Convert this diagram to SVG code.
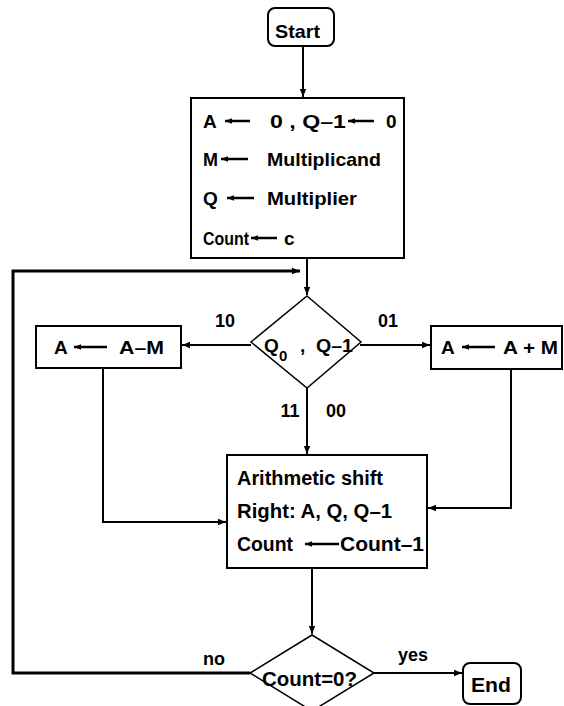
<svg xmlns="http://www.w3.org/2000/svg" width="564" height="706" viewBox="0 0 564 706">
<defs>
<marker id="ah" viewBox="0 0 10 10" refX="10" refY="5" markerWidth="10" markerHeight="8" markerUnits="userSpaceOnUse" orient="auto">
<path d="M0,1 L10,5 L0,9 Z" fill="#000"/>
</marker>
<marker id="ahs" viewBox="0 0 10 10" refX="10" refY="5" markerWidth="10" markerHeight="7" markerUnits="userSpaceOnUse" orient="auto">
<path d="M0,1 L10,5 L0,9 Z" fill="#000"/>
</marker>
</defs>
<style>
text{font-family:"Liberation Sans",Arial,sans-serif;font-weight:bold;fill:#000}
.t19{font-size:19px}
.t20{font-size:20px}
.lb{font-size:18px}
.box{fill:#fff;stroke:#000;stroke-width:2}
.dia{fill:#fff;stroke:#000;stroke-width:1.5}
.c{fill:none;stroke:#000;stroke-width:2}
.thick{fill:none;stroke:#000;stroke-width:3}
.ta{fill:none;stroke:#000;stroke-width:2.5;marker-end:url(#ahs)}
</style>
<rect width="564" height="706" fill="#fff"/>

<g id="connectors">
<path class="c" d="M303,46 V97" marker-end="url(#ah)"/>
<path class="c" d="M307,258 V295" marker-end="url(#ah)"/>
<path class="thick" d="M250,673 H13 V271 H300" marker-end="url(#ah)"/>
<path class="c" d="M251,345 H182" marker-end="url(#ah)"/>
<path class="c" d="M360,345 H430" marker-end="url(#ah)"/>
<path class="c" d="M307,388 V454" marker-end="url(#ah)"/>
<path class="c" d="M103,368 V522 H226" marker-end="url(#ah)"/>
<path class="c" d="M511,369 V508 H428" marker-end="url(#ah)"/>
<path class="c" d="M312,568 V634" marker-end="url(#ah)"/>
<path class="c" d="M374,673 H462" marker-end="url(#ah)"/>
</g>

<g id="start">
<rect class="box" x="268" y="8" width="66" height="38" rx="7"/>
<text x="275" y="38" font-size="19" textLength="45" lengthAdjust="spacingAndGlyphs">Start</text>
</g>

<g id="init">
<rect class="box" x="191" y="98" width="213" height="160"/>
<text class="t19" x="203" y="128">A</text>
<path class="ta" d="M250,121 H225"/>
<text class="t19" x="270" y="128" textLength="76" lengthAdjust="spacingAndGlyphs">0 , Q–1</text>
<path class="ta" d="M374,121 H348"/>
<text class="t19" x="386" y="128">0</text>
<text class="t19" x="203" y="166" textLength="15" lengthAdjust="spacingAndGlyphs">M</text>
<path class="ta" d="M248,159 H221"/>
<text class="t19" x="267" y="166" textLength="114" lengthAdjust="spacingAndGlyphs">Multiplicand</text>
<text class="t19" x="203" y="205">Q</text>
<path class="ta" d="M254,198 H227"/>
<text class="t19" x="267" y="205" textLength="90" lengthAdjust="spacingAndGlyphs">Multiplier</text>
<text class="t19" x="203" y="245" textLength="46" lengthAdjust="spacingAndGlyphs">Count</text>
<path class="ta" d="M277,238 H251"/>
<text class="t19" x="284" y="245">c</text>
</g>

<g id="test">
<polygon class="dia" points="307,296 361,342 307,388 251,342"/>
<text x="264" y="352" font-size="19">Q</text>
<text x="279" y="361" font-size="15">0</text>
<text x="300" y="352" font-size="19">,</text>
<text x="316" y="352" font-size="19" textLength="37" lengthAdjust="spacingAndGlyphs">Q–1</text>
</g>

<g id="sub">
<rect class="box" x="36" y="326" width="145" height="42"/>
<text class="t19" x="54" y="354">A</text>
<path class="ta" d="M107,347 H74"/>
<text class="t19" x="119" y="354" textLength="45" lengthAdjust="spacingAndGlyphs">A–M</text>
</g>

<g id="add">
<rect class="box" x="431" y="326" width="131" height="43"/>
<text class="t19" x="441" y="354">A</text>
<path class="ta" d="M495,347 H462"/>
<text class="t19" x="503" y="354" textLength="55" lengthAdjust="spacingAndGlyphs">A + M</text>
</g>

<g id="labels">
<text class="lb" x="225" y="327" text-anchor="middle">10</text>
<text class="lb" x="388" y="327" text-anchor="middle">01</text>
<text class="lb" x="290" y="417" text-anchor="middle">11</text>
<text class="lb" x="336" y="417" text-anchor="middle">00</text>
<text class="lb" x="214" y="665" text-anchor="middle">no</text>
<text class="lb" x="413" y="661" text-anchor="middle">yes</text>
</g>

<g id="shift">
<rect class="box" x="227" y="455" width="200" height="113"/>
<text class="t20" x="237" y="485" textLength="146" lengthAdjust="spacingAndGlyphs">Arithmetic shift</text>
<text class="t20" x="237" y="518" textLength="155" lengthAdjust="spacingAndGlyphs">Right: A, Q, Q–1</text>
<text class="t20" x="237" y="551" textLength="56" lengthAdjust="spacingAndGlyphs">Count</text>
<path class="ta" d="M339,544 H305"/>
<text class="t20" x="340" y="551" textLength="84" lengthAdjust="spacingAndGlyphs">Count–1</text>
</g>

<g id="done">
<polygon class="dia" points="312,635 374,673 312,711 250,673"/>
<text x="262" y="686" font-size="21" textLength="95" lengthAdjust="spacingAndGlyphs">Count=0?</text>
</g>

<g id="end">
<rect class="box" x="463" y="663" width="58" height="41" rx="7"/>
<text x="471" y="692" font-size="21" textLength="40" lengthAdjust="spacingAndGlyphs">End</text>
</g>
</svg>
